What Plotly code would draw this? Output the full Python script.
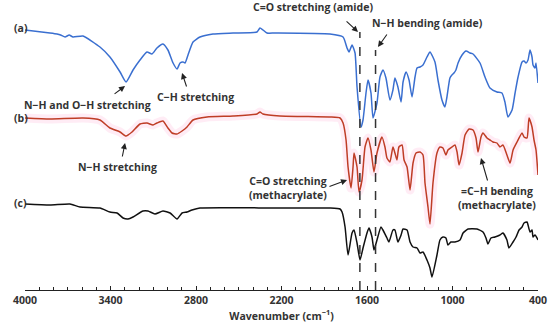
import plotly.graph_objects as go

# ---- data (wavenumber cm^-1, offset transmittance in arbitrary units) ----
wn_a = [4000, 3825, 3775, 3750, 3719, 3690, 3663, 3593, 3474, 3404, 3333, 3291, 3242, 3193, 3144, 3109,
        3074, 3032, 2997, 2961, 2933, 2912, 2891, 2877, 2856, 2821, 2772, 2681, 2540, 2372, 2351, 2330,
        2302, 2246, 1860, 1768, 1740, 1726, 1705, 1684, 1670, 1642, 1628, 1607, 1593, 1572, 1558, 1530,
        1509, 1488, 1467, 1439, 1418, 1404, 1383, 1361, 1347, 1326, 1305, 1284, 1263, 1249, 1228, 1207,
        1179, 1158, 1123, 1102, 1074, 1053, 1039, 1018, 1004, 990, 976, 961, 933, 905, 877, 856, 807,
        772, 737, 688, 653, 632, 611, 582, 561, 540, 512, 498, 484, 470, 456, 442, 435, 421, 414, 400]
t_a = [260, 257, 256, 255, 253, 255, 253, 254, 243, 233, 218, 208, 220, 230, 238, 236,
       242, 246, 240, 227, 221, 227, 228, 227, 235, 248, 253, 256, 257, 258, 262, 260,
       257, 257, 256, 253, 242, 238, 245, 237, 203, 163, 170, 197, 210, 197, 172, 187,
       213, 220, 212, 190, 200, 212, 203, 188, 208, 218, 210, 193, 213, 222, 223, 225,
       233, 238, 228, 210, 190, 183, 193, 212, 215, 217, 220, 227, 235, 239, 237, 236, 227,
       213, 202, 198, 197, 188, 173, 180, 197, 213, 228, 229, 227, 230, 240, 233, 225, 222, 227, 207]

wn_b = [4000, 3825, 3593, 3474, 3404, 3333, 3291, 3249, 3193, 3144, 3102, 3074, 3032, 2997, 2968, 2933,
        2898, 2863, 2821, 2723, 2540, 2372, 2351, 2330, 2211, 1860, 1789, 1768, 1747, 1733, 1712, 1698,
        1691, 1670, 1656, 1635, 1614, 1593, 1572, 1551, 1530, 1495, 1474, 1460, 1439, 1418, 1404, 1390,
        1376, 1354, 1340, 1319, 1298, 1277, 1256, 1228, 1207, 1193, 1172, 1158, 1137, 1109, 1088, 1067,
        1046, 1032, 1004, 983, 968, 954, 933, 912, 884, 856, 835, 821, 800, 786, 758, 737, 716, 688,
        667, 646, 618, 596, 575, 547, 512, 498, 477, 463, 442, 428, 414, 400]
t_b = [172, 171, 172, 170, 162, 158, 154, 158, 166, 167, 165, 167, 169, 162, 157, 156,
       159, 163, 170, 173, 174, 176, 178, 176, 174, 173, 172, 167, 150, 123, 102, 123,
       137, 123, 98, 110, 143, 152, 140, 118, 137, 153, 143, 132, 128, 143, 137, 130,
       143, 145, 130, 123, 100, 127, 137, 138, 135, 107, 83, 66, 107, 137, 143, 142,
       135, 140, 143, 145, 138, 125, 137, 155, 161, 160, 152, 138, 153, 157, 152, 150, 148, 147,
       143, 145, 135, 127, 140, 148, 157, 153, 152, 172, 163, 150, 140, 115]

wn_c = [4000, 3825, 3684, 3614, 3474, 3404, 3354, 3312, 3277, 3242, 3172, 3137, 3088, 3032, 2982, 2933,
        2898, 2863, 2828, 2772, 2246, 1860, 1789, 1775, 1754, 1733, 1705, 1691, 1670, 1649, 1628, 1600,
        1586, 1565, 1551, 1530, 1502, 1488, 1460, 1446, 1418, 1404, 1383, 1361, 1347, 1319, 1298, 1277,
        1249, 1228, 1207, 1179, 1158, 1144, 1109, 1088, 1067, 1046, 1032, 1011, 983, 947, 926, 891,
        828, 786, 765, 751, 730, 702, 667, 646, 618, 604, 575, 554, 533, 512, 498, 477, 470, 456,
        442, 435, 421, 400]
t_c = [86, 85, 86, 83, 82, 78, 77, 72, 71, 73, 79, 79, 76, 79, 77, 71,
       77, 78, 80, 82, 82, 82, 81, 78, 63, 35, 57, 60, 47, 30, 42, 57,
       62, 53, 40, 50, 63, 60, 52, 48, 60, 60, 48, 55, 61, 60, 48, 43,
       42, 37, 38, 30, 22, 13, 35, 50, 53, 52, 45, 48, 48, 50, 57, 61,
       61, 58, 52, 46, 52, 53, 55, 57, 50, 42, 48, 53, 60, 63, 67, 68, 65, 58,
       60, 53, 55, 50]

tick_vals = [4000, 3400, 2800, 2200, 1600, 1000, 400]
tick_text = ["4000", "3400", "2800", "2200", "1600", "1000", "400"]
band_lines = [1650, 1540]
band_tops = [258, 240]

FONT = "Open Sans"
TXT = "#333333"

fig = go.Figure()
fig.add_trace(go.Scatter(x=wn_b, y=t_b, mode="lines", line=dict(color="rgba(255,170,210,0.22)", width=9, shape="spline", smoothing=0.5), hoverinfo="skip", showlegend=False))
fig.add_trace(go.Scatter(x=wn_a, y=t_a, mode="lines", line=dict(color="#3a6fd0", width=1.5, shape="spline", smoothing=0.5), showlegend=False))
fig.add_trace(go.Scatter(x=wn_b, y=t_b, mode="lines", line=dict(color="#bf3d26", width=1.5, shape="spline", smoothing=0.5), showlegend=False))
fig.add_trace(go.Scatter(x=wn_c, y=t_c, mode="lines", line=dict(color="#111111", width=1.5, shape="spline", smoothing=0.5), showlegend=False))

for xv, top in zip(band_lines, band_tops):
    fig.add_shape(type="line", x0=xv, x1=xv, y0=0, y1=top, xref="x", yref="y",
                  line=dict(color="#333333", width=1.5, dash="dash"))

fnt = dict(family=FONT, size=10.5, color=TXT, weight="bold")

for lab, yv in [("(a)", 262), ("(b)", 172), ("(c)", 87)]:
    fig.add_annotation(text=lab, x=-0.025, xref="paper", y=yv, yref="y", showarrow=False, font=fnt)

# arrow annotations: (text, text_x, text_y, head_x, head_y, tail_x, tail_y)
arrows = [
    ("N\u2212H and O\u2212H stretching", 3558, 185, 3298, 204, 3382, 195),
    ("C\u2212H stretching", 2807, 193, 2898, 217, 2863, 202),
    ("N\u2212H stretching", 3354, 123, 3298, 147, 3319, 132),
    ("C=O stretching (amide)", 1979, 283, 1663, 258, 1754, 270),
    ("N\u2212H bending (amide)", 1172, 267, 1523, 243, 1453, 257),
    ("C=O stretching<br>(methacrylate)", 2154, 102, 1740, 110, 1874, 103),
    ("=C\u2212H bending<br>(methacrylate)", 688, 92, 800, 132, 751, 108),
]
for txt, tx, ty, hx, hy, ax_, ay_ in arrows:
    fig.add_annotation(text=txt, x=tx, y=ty, xref="x", yref="y", showarrow=False, font=fnt)
    fig.add_annotation(text="", x=hx, y=hy, ax=ax_, ay=ay_, xref="x", yref="y", axref="x", ayref="y",
                       showarrow=True, arrowhead=2, arrowsize=1.1, arrowwidth=1.1, arrowcolor="#222222")

fig.update_layout(
    width=550, height=333,
    margin=dict(l=25, r=12, t=0, b=43),
    paper_bgcolor="white", plot_bgcolor="white",
    xaxis=dict(range=[4000, 400], tickvals=tick_vals, ticktext=tick_text, automargin=False,
               showline=True, linecolor="#222222", linewidth=1.2, ticks="inside", ticklen=4,
               tickcolor="#222222", showgrid=False, zeroline=False,
               minor=dict(dtick=100, tick0=400, ticks="inside", ticklen=3, tickcolor="#222222", showgrid=False),
               tickfont=dict(family=FONT, size=10.5, color=TXT, weight="bold"),
               title=dict(text="Wavenumber (cm<sup>\u22121</sup>)", standoff=6,
                          font=dict(family=FONT, size=10.5, color=TXT, weight="bold"))),
    yaxis=dict(range=[0, 290], visible=False, automargin=False),
)

fig.write_html("out.html", config={"displayModeBar": False},
               post_script="document.body.style.margin='0';document.body.style.overflow='hidden';")
